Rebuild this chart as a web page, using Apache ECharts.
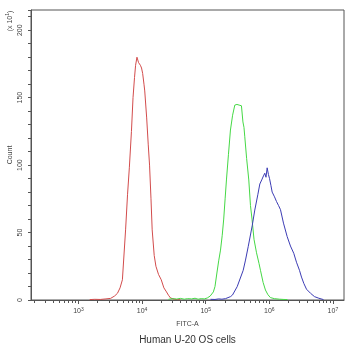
<!DOCTYPE html>
<html><head><meta charset="utf-8">
<script src="https://cdn.jsdelivr.net/npm/echarts@6/dist/echarts.min.js"></script>
<style>html,body{margin:0;padding:0;background:#fff}#c{width:350px;height:348px}</style>
</head><body><div id="c"></div>
<script>
// FITC-A channel values (bin positions) and counts (x10^1)
const redX = [1500, 1800, 2200, 2700, 3200, 3700, 4100, 4500, 4900, 5500, 5900, 6300, 6800, 7200, 7600, 7900, 8300, 8600, 8800, 9100, 9400, 9800, 10200, 10700, 11000, 11800, 12500, 13100, 13800, 14400, 15500, 16500, 18100, 20000, 22000, 24200, 26000, 28000, 32000, 36000, 40000];
const redY = [0.3, 0.5, 0.4, 0.8, 1.2, 3, 5, 9, 15, 52, 78, 98, 125, 150, 165, 174, 180, 179.5, 176, 176.5, 174, 172, 168, 160, 155, 135, 115, 100, 75, 52, 33, 25, 19, 15, 9, 6, 3.5, 1.5, 0.6, 0.3, 0.2];

const greenX = [26000, 30000, 35000, 40000, 46000, 52000, 60000, 68000, 76000, 85000, 95000, 106000, 118000, 132000, 140000, 150000, 160000, 171000, 182000, 192000, 202000, 212000, 228000, 245000, 265000, 287000, 310000, 335000, 365000, 385000, 400000, 412000, 440000, 476000, 506000, 535000, 575000, 630000, 690000, 727000, 800000, 870000, 950000, 1040000, 1200000, 1450000, 1700000, 1930000];
const greenY = [0.5, 1.0, 0.7, 1.2, 0.6, 1.0, 0.8, 1.3, 0.6, 1.0, 0.8, 1.5, 3, 6, 10, 20, 29, 37, 48, 60, 75, 89, 108, 126, 137, 144.5, 145, 144.5, 144, 132, 128, 121, 105, 89, 70, 60, 45, 35, 27, 22, 13, 7.4, 4, 1.8, 1, 0.6, 0.4, 0.3];

const blueX = [119000, 140000, 160000, 180000, 204700, 245400, 264000, 312700, 388800, 422800, 466000, 538700, 591600, 660000, 709700, 760000, 810000, 850000, 887500, 926000, 970000, 1010000, 1060000, 1110000, 1208000, 1299000, 1400000, 1500000, 1672000, 1911000, 2153000, 2427000, 2677000, 2985000, 3209000, 3492000, 3850000, 4448000, 5140000, 6010000, 7120000];
const blueY = [0.5, 0.4, 0.8, 0.6, 1, 2.5, 3.7, 9.9, 22, 29.6, 39.5, 55, 66.7, 78, 86, 89, 92, 94, 91, 98, 93, 90, 85, 80, 76.5, 73, 70, 67, 57, 47, 40, 34.6, 28, 22, 17, 12.3, 8, 5, 2.5, 1.3, 0.3];

const decadeTicks = [1e3, 1e4, 1e5, 1e6, 1e7];
const decadeExponents = ['3', '4', '5', '6', '7'];
const minorTicks = [];
[100, 1000, 10000, 100000, 1000000].forEach(function (d) {
  for (let k = 2; k <= 9; k++) minorTicks.push(k * d);
});

const xMin = 179, xMax = 1.496e7;
const font = 'Liberation Sans, Arial, sans-serif';
const axisColor = '#555';
const textColor = '#444';

function zip(xs, ys) { return xs.map(function (x, i) { return [x, ys[i]]; }); }

const chart = echarts.init(document.getElementById('c'), null, { renderer: 'canvas' });
chart.setOption({
  animation: false,
  backgroundColor: '#fff',
  grid: { left: 31, right: 6, top: 10, bottom: 48, show: true, borderColor: axisColor, borderWidth: 1, containLabel: false, outerBoundsMode: 'none' },
  xAxis: [{
    type: 'log', min: xMin, max: xMax,
    name: 'FITC-A', nameLocation: 'middle', nameGap: 21, nameMoveOverlap: false,
    nameTextStyle: { fontSize: 7, color: textColor, fontFamily: font },
    axisLine: { show: true, lineStyle: { color: axisColor, width: 1 } },
    axisTick: { show: true, length: 4, customValues: decadeTicks, lineStyle: { color: axisColor } },
    minorTick: { show: false },
    splitLine: { show: false },
    axisLabel: {
      customValues: decadeTicks, margin: 7, fontFamily: font,
      formatter: function (v) {
        const e = decadeExponents[decadeTicks.indexOf(v)] || String(Math.round(Math.log10(v)));
        return '{b|10}{s|' + e + '}';
      },
      rich: {
        b: { fontSize: 7, color: textColor, fontFamily: font, lineHeight: 9 },
        s: { fontSize: 5, color: textColor, fontFamily: font, verticalAlign: 'top', lineHeight: 9, padding: [0, 0, 3, 0] }
      }
    }
  }, {
    type: 'log', min: xMin, max: xMax, position: 'bottom',
    axisLine: { show: false },
    axisTick: { show: true, length: 3, customValues: minorTicks, lineStyle: { color: axisColor } },
    axisLabel: { show: false },
    splitLine: { show: false }
  }],
  yAxis: {
    type: 'value', min: 0, max: 215, interval: 10,
    name: 'Count', nameLocation: 'middle', nameGap: 17, nameRotate: 90, nameMoveOverlap: false,
    nameTextStyle: { fontSize: 7, color: textColor, fontFamily: font },
    axisLine: { show: true, lineStyle: { color: axisColor, width: 1 } },
    axisTick: { show: true, length: 3, lineStyle: { color: axisColor } },
    splitLine: { show: false },
    axisLabel: {
      rotate: 90, margin: 7, fontSize: 7, color: textColor, fontFamily: font,
      formatter: function (v) { return v % 50 === 0 ? String(v) : ''; }
    }
  },
  graphic: [{
    type: 'text', x: 10, y: 21, rotation: Math.PI / 2,
    style: {
      text: '{a|(x 10}{s|1}{a|)}', align: 'center', verticalAlign: 'middle',
      rich: {
        a: { fontSize: 7, fill: textColor, fontFamily: font, lineHeight: 9 },
        s: { fontSize: 5, fill: textColor, fontFamily: font, verticalAlign: 'top', lineHeight: 9 }
      }
    }
  }, {
    type: 'text', x: 187.5, y: 340,
    style: {
      text: 'Human U-20 OS cells', align: 'center', verticalAlign: 'middle',
      fontSize: 10, fill: '#333', fontFamily: font
    }
  }],
  series: [
    { type: 'line', name: 'red', data: zip(redX, redY), showSymbol: false, lineStyle: { color: '#d24c4c', width: 1 }, itemStyle: { color: '#d24c4c' } },
    { type: 'line', name: 'green', data: zip(greenX, greenY), showSymbol: false, lineStyle: { color: '#45d845', width: 1 }, itemStyle: { color: '#45d845' } },
    { type: 'line', name: 'blue', data: zip(blueX, blueY), showSymbol: false, lineStyle: { color: '#3c3cb4', width: 1 }, itemStyle: { color: '#3c3cb4' } }
  ]
});
</script>
</body></html>
